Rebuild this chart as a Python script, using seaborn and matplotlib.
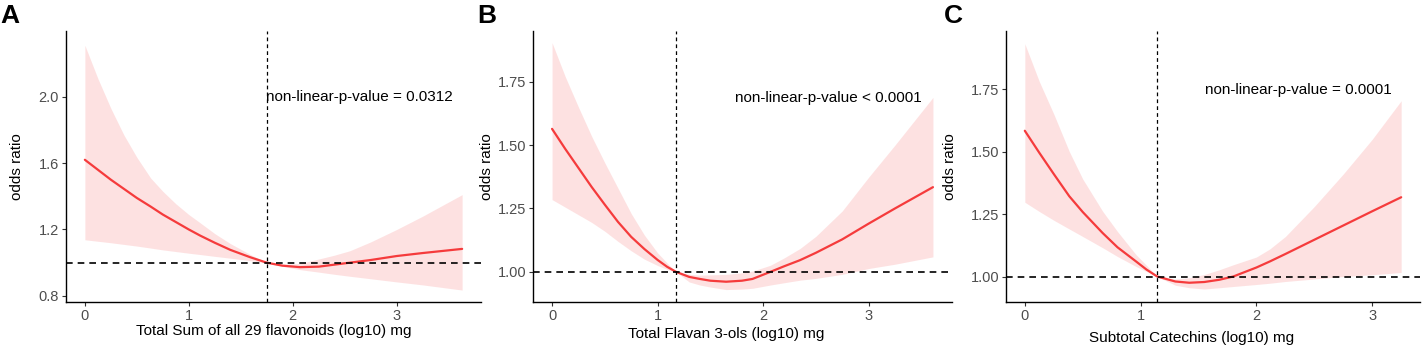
import matplotlib
matplotlib.use('Agg')
import matplotlib.pyplot as plt
import seaborn as sns
import numpy as np
import pandas as pd

# values (log10 mg vs odds ratio, with 95% band)
# panel A - Total Sum of all 29 flavonoids
a_x     = [0, 0.125, 0.25, 0.375, 0.5, 0.633, 0.75, 0.875, 1.0, 1.11, 1.25, 1.4, 1.59, 1.75,
           1.9, 2.07, 2.25, 2.4, 2.55, 2.75, 3.0, 3.25, 3.63]
a_or    = [1.62, 1.56, 1.50, 1.445, 1.39, 1.338, 1.29, 1.245, 1.20, 1.163, 1.12, 1.077, 1.033, 1.0,
           0.982, 0.973, 0.976, 0.988, 1.0, 1.016, 1.04, 1.058, 1.083]
a_upper = [2.31, 2.11, 1.93, 1.77, 1.635, 1.51, 1.43, 1.355, 1.29, 1.24, 1.175, 1.115, 1.05, 1.0,
           0.99, 0.995, 1.022, 1.045, 1.072, 1.125, 1.2, 1.28, 1.41]
a_lower = [1.138, 1.129, 1.12, 1.11, 1.10, 1.088, 1.077, 1.067, 1.057, 1.049, 1.038, 1.027, 1.012, 1.0,
           0.978, 0.958, 0.943, 0.93, 0.918, 0.903, 0.884, 0.866, 0.835]
a_ref = 1.75
a_ylim = (0.763, 2.396)
a_yticks = [0.8, 1.2, 1.6, 2.0]
a_yticklabels = ['0.8', '1.2', '1.6', '2.0']

# panel B - Total Flavan 3-ols
b_x     = [0, 0.125, 0.25, 0.375, 0.5, 0.625, 0.75, 0.875, 1.0, 1.09, 1.175, 1.3, 1.4, 1.5, 1.65,
           1.8, 1.9, 2.07, 2.2, 2.35, 2.5, 2.75, 3.0, 3.25, 3.61]
b_or    = [1.564, 1.485, 1.41, 1.335, 1.265, 1.197, 1.138, 1.09, 1.047, 1.02, 1.0, 0.98, 0.972, 0.965, 0.961,
           0.965, 0.972, 1.0, 1.022, 1.046, 1.075, 1.128, 1.19, 1.25, 1.334]
b_upper = [1.904, 1.77, 1.65, 1.535, 1.43, 1.33, 1.23, 1.145, 1.075, 1.035, 1.0, 0.99, 0.987, 0.988, 0.99,
           0.996, 1.003, 1.026, 1.055, 1.092, 1.14, 1.24, 1.373, 1.50, 1.688]
b_lower = [1.285, 1.255, 1.225, 1.195, 1.16, 1.12, 1.083, 1.05, 1.025, 1.01, 1.0, 0.96, 0.948, 0.94, 0.93,
           0.932, 0.935, 0.948, 0.957, 0.967, 0.974, 0.99, 1.013, 1.03, 1.059]
b_ref = 1.175
b_ylim = (0.881, 1.95)
b_yticks = [1.00, 1.25, 1.50, 1.75]
b_yticklabels = ['1.00', '1.25', '1.50', '1.75']

# panel C - Subtotal Catechins
c_x     = [0, 0.125, 0.25, 0.384, 0.5, 0.672, 0.8, 0.961, 1.05, 1.143, 1.3, 1.42, 1.55, 1.68, 1.8,
           2.0, 2.115, 2.25, 2.5, 2.75, 3.0, 3.25]
c_or    = [1.583, 1.495, 1.41, 1.321, 1.258, 1.174, 1.117, 1.06, 1.028, 1.0, 0.98, 0.975, 0.978, 0.987, 1.0,
           1.036, 1.06, 1.09, 1.147, 1.204, 1.261, 1.317]
c_upper = [1.931, 1.78, 1.65, 1.50, 1.39, 1.261, 1.18, 1.087, 1.045, 1.0, 0.99, 0.995, 1.008, 1.027, 1.047,
           1.078, 1.11, 1.16, 1.28, 1.41, 1.549, 1.703]
c_lower = [1.297, 1.26, 1.225, 1.19, 1.16, 1.115, 1.08, 1.04, 1.02, 1.0, 0.965, 0.955, 0.95, 0.955, 0.96,
           0.968, 0.973, 0.98, 0.99, 1.0, 1.007, 1.016]
c_ref = 1.143
c_ylim = (0.898, 1.982)
c_yticks = [1.00, 1.25, 1.50, 1.75]
c_yticklabels = ['1.00', '1.25', '1.50', '1.75']

xticks = [0, 1, 2, 3]
letters = ['A', 'B', 'C']
xlabels = ['Total Sum of all 29 flavonoids (log10) mg',
           'Total Flavan 3-ols (log10) mg',
           'Subtotal Catechins (log10) mg']
pvals = ['non-linear-p-value = 0.0312',
         'non-linear-p-value < 0.0001',
         'non-linear-p-value = 0.0001']
ptext_pos = [(2.64, 2.0), (2.62, 1.687), (2.36, 1.747)]

sns.set_theme(style='ticks')
plt.rcParams['font.family'] = ['Liberation Sans', 'DejaVu Sans']

W, H = 1423, 348
fig = plt.figure(figsize=(W / 100, H / 100), dpi=100)

# axes boxes in pixels: left, right
boxes = [(66, 481), (533, 952), (1006, 1420)]
top_px, bot_px = 31, 302
letter_x = [0, 477, 944]
ylab_right = [24, 494, 957]
xlab_center = [273.5, 726, 1192]
xlab_top = [324, 327, 331]

data = [(a_x, a_or, a_upper, a_lower, a_ref, a_ylim, a_yticks, a_yticklabels),
        (b_x, b_or, b_upper, b_lower, b_ref, b_ylim, b_yticks, b_yticklabels),
        (c_x, c_or, c_upper, c_lower, c_ref, c_ylim, c_yticks, c_yticklabels)]

line_col = '#F53B3C'

for i, (xs, ors, up, lo, ref, ylim, yt, ytl) in enumerate(data):
    l, r = boxes[i]
    ax = fig.add_axes([l / W, 1 - bot_px / H, (r - l) / W, (bot_px - top_px) / H])
    df = pd.DataFrame({'x': xs, 'or': ors, 'upper': up, 'lower': lo})

    ax.fill_between(df['x'], df['lower'], df['upper'], color=line_col, alpha=0.15, lw=0)
    sns.lineplot(data=df, x='x', y='or', ax=ax, color=line_col, lw=1.6)

    # ggplot-like 5% expansion on x
    xr = max(xs) - min(xs)
    ax.set_xlim(min(xs) - 0.05 * xr, max(xs) + 0.05 * xr)
    ax.set_ylim(*ylim)

    ax.axhline(1.0, color='black', ls=(0, (4, 3)), lw=1.2)
    ax.axvline(ref, color='black', ls=(0, (3, 2.5)), lw=0.9)

    ax.text(ptext_pos[i][0], ptext_pos[i][1], pvals[i], ha='center', va='center',
            fontsize=11, color='black')

    ax.set_xticks(xticks)
    ax.set_yticks(yt)
    ax.set_yticklabels(ytl)
    ax.tick_params(axis='both', labelsize=10.5, labelcolor='#4D4D4D', color='#333333',
                   length=3, width=0.8, pad=2)
    sns.despine(ax=ax)
    for s in ['left', 'bottom']:
        ax.spines[s].set_color('black')
        ax.spines[s].set_linewidth(1.0)

    ax.set_ylabel('odds ratio', fontsize=11, color='black')
    ax.yaxis.set_label_coords(-(l - ylab_right[i]) / (r - l), 0.5)
    ax.set_xlabel(xlabels[i], fontsize=11, color='black', va='top')
    ax.xaxis.set_label_coords((xlab_center[i] - l) / (r - l),
                              -(xlab_top[i] - bot_px) / (bot_px - top_px))

    fig.text(letter_x[i] / W, 1 - 16 / H, letters[i], fontsize=19,
             fontweight='bold', va='center', ha='left', color='black')

fig.savefig('out.png', dpi=100, facecolor='white')
